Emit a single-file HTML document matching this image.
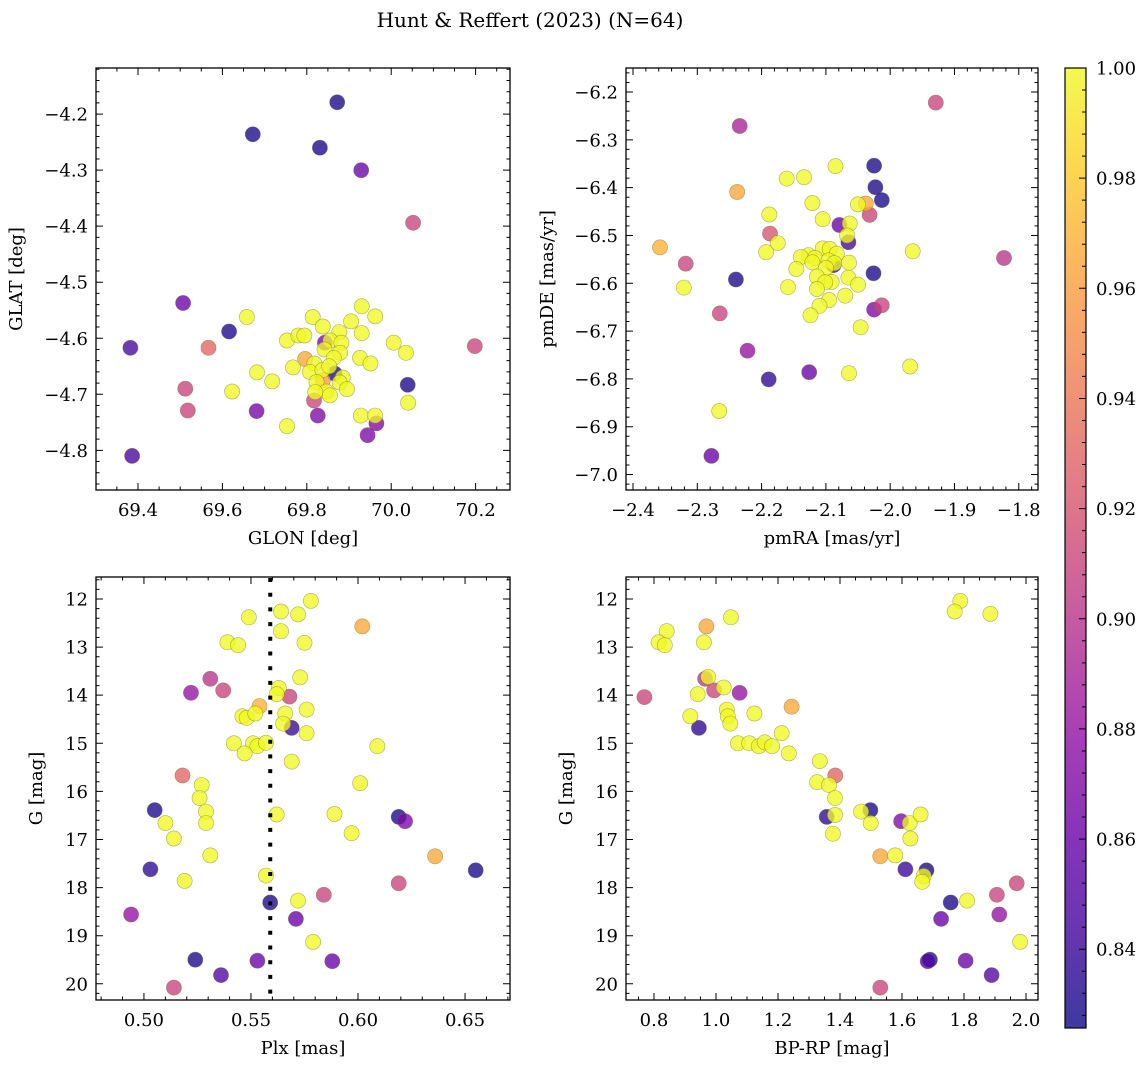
<!DOCTYPE html>
<html><head><meta charset="utf-8">
<style>
html,body{margin:0;padding:0;background:#fff;}
svg{display:block;font-family:"DejaVu Serif","Liberation Serif",serif;}
</style></head>
<body>
<svg id="fig" width="1148" height="1067" viewBox="0 0 1148 1067" xmlns="http://www.w3.org/2000/svg">
<text x="530" y="27" text-anchor="middle" font-size="20">Hunt &amp; Reffert (2023) (N=64)</text>
</svg>
<script>
// ---------- Panel 1: GLON vs GLAT ----------
const glonX = [69.872,69.672,69.831,69.929,70.052,69.507,69.616,69.382,69.567,70.198,69.512,69.518,69.681,69.386,70.039,69.826,69.817,69.965,69.944,69.866,69.796,69.838,69.843,
69.658,69.814,69.838,69.930,69.962,69.905,69.877,69.930,69.753,69.780,69.794,69.856,69.882,69.842,69.879,69.864,69.926,70.006,70.035,69.951,69.767,69.818,69.807,69.837,69.853,69.885,69.878,69.823,69.895,69.846,69.820,69.855,69.682,69.718,69.623,69.753,69.928,69.962,70.040];
const glatY = [-4.179,-4.236,-4.260,-4.300,-4.394,-4.537,-4.588,-4.617,-4.617,-4.614,-4.690,-4.729,-4.730,-4.810,-4.683,-4.738,-4.711,-4.752,-4.773,-4.663,-4.637,-4.675,-4.608,
-4.562,-4.562,-4.579,-4.543,-4.561,-4.570,-4.589,-4.591,-4.604,-4.595,-4.595,-4.604,-4.608,-4.620,-4.626,-4.635,-4.635,-4.608,-4.626,-4.645,-4.652,-4.645,-4.660,-4.657,-4.650,-4.670,-4.679,-4.678,-4.691,-4.695,-4.696,-4.702,-4.661,-4.677,-4.695,-4.757,-4.738,-4.738,-4.715];
const prob1 = [0.83,0.83,0.83,0.86,0.91,0.86,0.83,0.845,0.93,0.91,0.91,0.91,0.865,0.845,0.83,0.87,0.91,0.87,0.87,0.83,0.965,0.96,0.87,
1,1,1,1,1,1,1,1,1,1,1,1,1,1,1,1,1,1,1,1,1,1,1,1,1,1,1,1,1,1,1,1,1,1,1,1,1,1,1];

// ---------- Panel 2: pmRA vs pmDE ----------
const pmraX = [-1.929,-2.234,-2.238,-2.358,-2.318,-2.240,-2.265,-2.222,-2.189,-2.126,-2.278,-2.025,-2.023,-2.013,-2.038,-2.032,-2.187,-2.079,-2.065,-2.088,-2.026,-2.013,-2.025,-1.823,
-2.085,-2.161,-2.134,-2.121,-2.050,-2.188,-2.105,-2.063,-2.067,-2.175,-2.193,-1.965,-2.105,-2.094,-2.083,-2.127,-2.139,-2.117,-2.121,-2.096,-2.087,-2.064,-2.146,-2.100,-2.114,-2.065,-2.091,-2.101,-2.050,-2.321,-2.159,-2.114,-2.070,-2.095,-2.110,-2.124,-2.046,-1.969,-2.064,-2.266];
const pmdeY = [-6.222,-6.271,-6.409,-6.525,-6.559,-6.592,-6.663,-6.741,-6.801,-6.786,-6.961,-6.354,-6.399,-6.426,-6.433,-6.457,-6.496,-6.478,-6.514,-6.562,-6.579,-6.646,-6.655,-6.547,
-6.355,-6.381,-6.378,-6.432,-6.435,-6.456,-6.466,-6.475,-6.500,-6.516,-6.535,-6.533,-6.527,-6.528,-6.538,-6.541,-6.545,-6.547,-6.556,-6.552,-6.558,-6.557,-6.570,-6.568,-6.586,-6.588,-6.597,-6.598,-6.603,-6.609,-6.608,-6.612,-6.626,-6.635,-6.647,-6.667,-6.692,-6.774,-6.788,-6.867];
const prob2 = [0.91,0.89,0.965,0.97,0.91,0.83,0.91,0.88,0.835,0.86,0.86,0.83,0.83,0.83,0.965,0.91,0.92,0.86,0.845,0.84,0.83,0.91,0.87,0.90,
1,1,1,1,1,1,1,1,1,1,1,1,1,1,1,1,1,1,1,1,1,1,1,1,1,1,1,1,1,1,1,1,1,1,1,1,1,1,1,1];

// ---------- Panel 3: Plx vs G ----------
const plxX = [0.578,0.564,0.572,0.549,0.564,0.575,0.539,0.544,0.602,0.573,0.531,0.522,0.537,0.563,0.562,0.568,0.554,0.576,0.546,0.548,0.552,0.566,0.565,0.569,0.576,0.542,0.551,0.553,0.557,0.547,0.609,0.569,0.518,0.527,0.526,0.601,0.505,0.529,0.529,0.510,0.562,0.589,0.619,0.622,0.514,0.597,0.531,0.636,0.503,0.655,0.519,0.557,0.619,0.584,0.559,0.572,0.494,0.571,0.579,0.524,0.553,0.588,0.536,0.514];
const gmag3 = [12.04,12.26,12.32,12.38,12.67,12.91,12.90,12.96,12.57,13.63,13.66,13.95,13.90,13.85,13.98,14.03,14.23,14.30,14.44,14.47,14.38,14.38,14.59,14.68,14.79,15.00,15.00,15.06,14.99,15.21,15.06,15.38,15.67,15.87,16.14,15.83,16.39,16.42,16.66,16.66,16.48,16.47,16.53,16.62,16.98,16.87,17.33,17.35,17.62,17.64,17.86,17.75,17.91,18.15,18.31,18.27,18.56,18.65,19.13,19.50,19.52,19.53,19.82,20.08];
const prob3 = [1,1,1,1,1,1,1,1,0.965,1,0.90,0.88,0.91,1,1,0.91,0.97,1,1,1,1,1,1,0.84,1,1,1,1,1,1,1,1,0.93,1,1,1,0.83,1,1,1,1,1,0.83,0.87,1,1,1,0.965,0.835,0.83,1,1,0.91,0.91,0.83,1,0.88,0.86,1,0.83,0.86,0.86,0.85,0.91];
const plxLine = 0.559;

// ---------- Panel 4: BP-RP vs G ----------
const bprpX = [1.788,1.770,1.885,1.048,0.969,0.841,0.815,0.835,0.961,0.965,0.975,0.994,1.025,0.941,1.076,0.769,1.244,0.917,1.035,1.038,1.046,1.124,0.945,1.212,1.071,1.107,1.138,1.157,1.181,1.235,1.335,1.385,1.326,1.365,1.384,1.498,1.468,1.357,1.384,1.499,1.597,1.625,1.660,1.377,1.627,1.530,1.578,1.611,1.679,1.670,1.665,1.970,1.906,1.757,1.810,1.914,1.726,1.981,1.690,1.683,1.805,1.889,1.530];
const gmag4 = [12.04,12.26,12.31,12.38,12.57,12.67,12.90,12.96,12.90,13.66,13.62,13.90,13.84,13.98,13.95,14.04,14.24,14.44,14.30,14.44,14.59,14.38,14.68,14.79,15.00,15.00,15.06,14.98,15.06,15.21,15.37,15.67,15.81,15.87,16.14,16.39,16.42,16.53,16.49,16.66,16.62,16.66,16.48,16.88,16.98,17.35,17.33,17.62,17.64,17.76,17.88,17.91,18.15,18.31,18.27,18.56,18.65,19.13,19.50,19.53,19.52,19.82,20.08];
const prob4 = [1,1,1,1,0.965,1,1,1,1,0.90,1,0.91,1,1,0.88,0.91,0.965,1,1,1,1,1,0.835,1,1,1,1,1,1,1,1,0.93,1,1,1,0.83,1,0.835,1,1,0.87,1,1,1,1,0.965,1,0.84,0.83,1,1,0.91,0.91,0.83,1,0.88,0.86,1,0.83,0.85,0.86,0.85,0.91];

// ---------- Tick arrays ----------
const ticks1X = [69.4,69.6,69.8,70.0,70.2];
const ticks1Y = [-4.2,-4.3,-4.4,-4.5,-4.6,-4.7,-4.8];
const ticks2X = [-2.4,-2.3,-2.2,-2.1,-2.0,-1.9,-1.8];
const ticks2Y = [-6.2,-6.3,-6.4,-6.5,-6.6,-6.7,-6.8,-6.9,-7.0];
const ticks3X = [0.50,0.55,0.60,0.65];
const ticksG = [12,13,14,15,16,17,18,19,20];
const ticks4X = [0.8,1.0,1.2,1.4,1.6,1.8,2.0];
const ticksCB = [0.84,0.86,0.88,0.90,0.92,0.94,0.96,0.98,1.00];
const cbMin = 0.8257, cbMax = 1.0;

const NS = "http://www.w3.org/2000/svg";
const svg = document.getElementById('fig');
function mk(tag, attrs, parent){
  const e = document.createElementNS(NS, tag);
  for (const k in attrs) e.setAttribute(k, attrs[k]);
  (parent||svg).appendChild(e);
  return e;
}
const stops = ["#0d0887","#41049d","#6a00a8","#8f0da4","#b12a90","#cc4778","#e16462","#f2844b","#fca636","#fcce25","#f0f921"];
function hex(h){return [parseInt(h.substr(1,2),16),parseInt(h.substr(3,2),16),parseInt(h.substr(5,2),16)];}
function plasma(t){
  t=Math.max(0,Math.min(1,t));
  const f=t*10, i=Math.min(9,Math.floor(f)), r=f-i;
  const a=hex(stops[i]), b=hex(stops[i+1]);
  return 'rgb('+a.map((v,k)=>Math.round(v+(b[k]-v)*r)).join(',')+')';
}
function fmt(v,d){const s=Math.abs(v).toFixed(d);return (v<0?'\u2212':'')+s;}
const FS = 18;

function panel(name, box, xd, yd, xs, ys, ps, xt, yt, xdec, ydec, xminor, yminor, xlabel, ylabel, ylabX){
  const g = mk('g', {});
  
  
  const sx = v => box.l + (v - xd[0]) / (xd[1] - xd[0]) * (box.r - box.l);
  const sy = v => box.t + (v - yd[0]) / (yd[1] - yd[0]) * (box.b - box.t);
  const W = box.r - box.l, H = box.b - box.t;
  const idx = ps.map((p,i)=>i).sort((a,b)=>ps[a]-ps[b]);
  const pg = mk('g', {}, g);
  
  
  idx.forEach(i=>{
    if (xs[i]===undefined || ys[i]===undefined) return;
    const c = mk('circle', {cx: sx(xs[i]).toFixed(1), cy: sy(ys[i]).toFixed(1), r: 7.6, fill: plasma((ps[i]-cbMin)/(cbMax-cbMin)), 'fill-opacity': 0.78, stroke: '#6b6b30', 'stroke-opacity': 0.55, 'stroke-width': 0.6}, pg);
    
    
  });
  const fr = mk('rect', {x: box.l, y: box.t, width: W, height: H, fill: 'none', stroke: '#000', 'stroke-width': 1.3}, g);
  
  
  let path = '';
  const x0 = Math.ceil(Math.min(xd[0],xd[1])/xminor - 1e-6), x1 = Math.floor(Math.max(xd[0],xd[1])/xminor + 1e-6);
  for (let k=x0;k<=x1;k++){const px=sx(k*xminor); path+=`M${px} ${box.b}v-3.5M${px} ${box.t}v3.5`;}
  const y0 = Math.ceil(Math.min(yd[0],yd[1])/yminor - 1e-6), y1 = Math.floor(Math.max(yd[0],yd[1])/yminor + 1e-6);
  for (let k=y0;k<=y1;k++){const py=sy(k*yminor); path+=`M${box.l} ${py}h3.5M${box.r} ${py}h-3.5`;}
  xt.forEach(v=>{const px=sx(v); path+=`M${px} ${box.b}v-7M${px} ${box.t}v7`;
    const t = mk('text', {x: px, y: box.b + 26, 'text-anchor': 'middle', 'font-size': FS}, g);
    t.textContent = fmt(v, xdec);
    
    
  });
  yt.forEach(v=>{const py=sy(v); path+=`M${box.l} ${py}h7M${box.r} ${py}h-7`;
    const t = mk('text', {x: box.l - 8, y: py + 6.5, 'text-anchor': 'end', 'font-size': FS}, g);
    t.textContent = fmt(v, ydec);
    
    
  });
  const tk = mk('path', {d: path, stroke: '#000', 'stroke-width': 1, fill: 'none'}, g);
  
  
  const xl = mk('text', {x: (box.l+box.r)/2, y: box.b + 54, 'text-anchor': 'middle', 'font-size': FS}, g);
  xl.textContent = xlabel;
  
  
  const yl = mk('text', {x: 0, y: 0, 'text-anchor': 'middle', 'font-size': FS, transform: `translate(${ylabX},${(box.t+box.b)/2}) rotate(-90)`}, g);
  yl.textContent = ylabel;
  
  
  return {sx, sy, g};
}

panel('glon-glat-panel', {l:96,r:510,t:68,b:490}, [69.3005,70.2815], [-4.1177,-4.8708], glonX, glatY, prob1, ticks1X, ticks1Y, 1, 1, 0.05, 0.02, 'GLON [deg]', 'GLAT [deg]', 22);
panel('pm-panel', {l:626,r:1038,t:68,b:490}, [-2.4109,-1.7701], [-6.1497,-7.0323], pmraX, pmdeY, prob2, ticks2X, ticks2Y, 1, 1, 0.02, 0.02, 'pmRA [mas/yr]', 'pmDE [mas/yr]', 553);
const p3 = panel('plx-g-panel', {l:96,r:510,t:577,b:1000}, [0.4776,0.6710], [11.543,20.337], plxX, gmag3, prob3, ticks3X, ticksG, 2, 0, 0.01, 0.2, 'Plx [mas]', 'G [mag]', 42);
panel('cmd-panel', {l:626,r:1038,t:577,b:1000}, [0.7097,2.0387], [11.543,20.337], bprpX, gmag4, prob4, ticks4X, ticksG, 1, 0, 0.05, 0.2, 'BP-RP [mag]', 'G [mag]', 572);

const lx = p3.sx(plxLine);
const dl = mk('line', {x1: lx, x2: lx, y1: 578, y2: 1000, stroke: '#000', 'stroke-width': 4, 'stroke-dasharray': '4 10.7'});



// ---------- Colorbar ----------
const cb = {l:1065, r:1086, t:68, b:1028};
const defs = mk('defs', {});
const grad = mk('linearGradient', {id: 'cbg', x1: 0, y1: 1, x2: 0, y2: 0}, defs);
for (let i=0;i<=10;i++){ mk('stop', {offset: i/10, 'stop-color': stops[i], 'stop-opacity': 0.8}, grad); }
const cbr = mk('rect', {x: cb.l, y: cb.t, width: cb.r-cb.l, height: cb.b-cb.t, fill: 'url(#cbg)', stroke: '#000', 'stroke-width': 1.2});


const cy = v => cb.b - (v - cbMin)/(cbMax - cbMin)*(cb.b - cb.t);
let cpath = '';
for (let k=Math.ceil(cbMin/0.004); k<=250; k++){ cpath += `M${cb.r} ${cy(k*0.004)}h-4`; }
ticksCB.forEach(v=>{
  cpath += `M${cb.r} ${cy(v)}h-7`;
  const t = mk('text', {x: 1096, y: cy(v) + 6.5, 'font-size': FS});
  t.textContent = v.toFixed(2);
  
  
});
const cbt = mk('path', {d: cpath, stroke: '#000', 'stroke-width': 1});


</script>
</body></html>
